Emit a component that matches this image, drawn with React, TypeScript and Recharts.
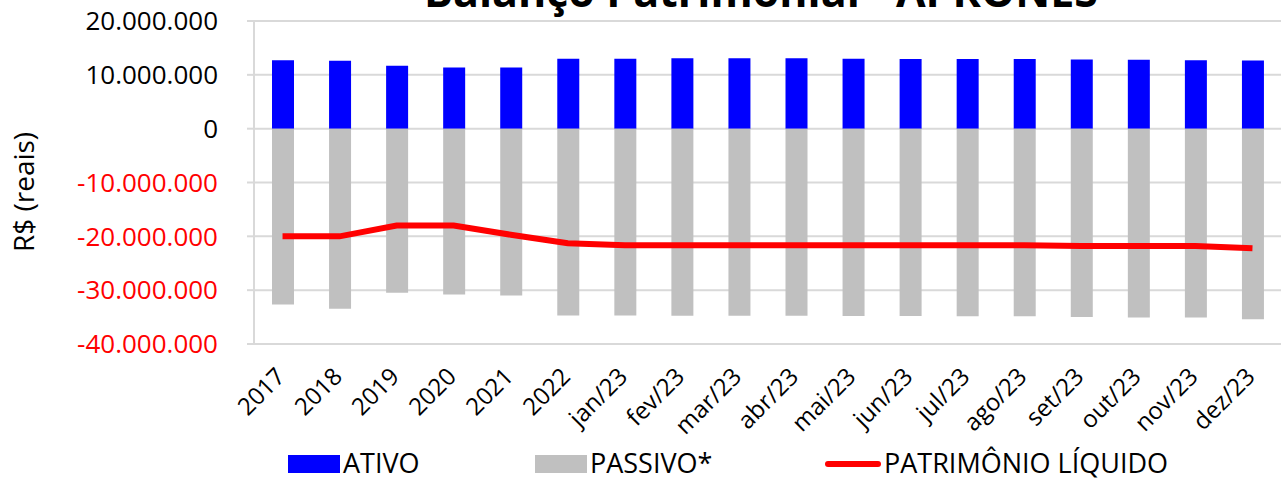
import { ComposedChart, Bar, Line, XAxis, YAxis, CartesianGrid, Legend } from 'recharts'

const categories = [
  '2017', '2018', '2019', '2020', '2021', '2022',
  'jan/23', 'fev/23', 'mar/23', 'abr/23', 'mai/23', 'jun/23',
  'jul/23', 'ago/23', 'set/23', 'out/23', 'nov/23', 'dez/23',
]

const ativo = [
  12720000, 12600000, 11670000, 11350000, 11350000, 13000000,
  13000000, 13080000, 13080000, 13080000, 13000000, 12960000,
  12960000, 12960000, 12840000, 12780000, 12720000, 12660000,
]

const passivo = [
  -32650000, -33450000, -30500000, -30800000, -31000000, -34700000,
  -34700000, -34750000, -34750000, -34750000, -34800000, -34800000,
  -34850000, -34850000, -35000000, -35060000, -35060000, -35400000,
]

const patrimonio = [
  -20000000, -20000000, -18000000, -18000000, -19700000, -21300000,
  -21650000, -21650000, -21650000, -21650000, -21650000, -21650000,
  -21650000, -21650000, -21800000, -21800000, -21800000, -22200000,
]

const yTicks = [20000000, 10000000, 0, -10000000, -20000000, -30000000, -40000000]

const data = categories.map((c, i) => ({
  name: c,
  ativo: ativo[i],
  passivo: passivo[i],
  pl: patrimonio[i],
}))

const FONT = '"Open Sans", sans-serif'

function fmt(v: number) {
  const s = Math.abs(v).toString().replace(/\B(?=(\d{3})+(?!\d))/g, '.')
  return v < 0 ? '-' + s : s
}

const YTick = ({ x, y, payload }: any) => (
  <text
    x={x}
    y={y}
    dy="0.355em"
    textAnchor="end"
    fontSize={26}
    fontFamily={FONT}
    fill={payload.value < 0 ? '#ff0000' : '#000000'}
  >
    {fmt(payload.value)}
  </text>
)

const XTick = ({ x, y, payload }: any) => {
  const px = x + 4
  const py = y + 26
  return (
    <text
      x={px}
      y={py}
      transform={`rotate(-45, ${px}, ${py})`}
      textAnchor="end"
      fontSize={24}
      fontFamily={FONT}
      fill="#000000"
    >
      {payload.value}
    </text>
  )
}

// legend box sits between y=430 and y=480
const LegendBox = () => (
  <div style={{ position: 'relative', height: 50, fontFamily: FONT, fontSize: 27, color: '#000' }}>
    <div style={{ position: 'absolute', left: 288, top: 25, width: 52, height: 18, background: '#0000ff' }} />
    <div style={{ position: 'absolute', left: 343, top: 18, lineHeight: '30px' }}>ATIVO</div>
    <div style={{ position: 'absolute', left: 535, top: 25, width: 52, height: 18, background: '#c0c0c0' }} />
    <div style={{ position: 'absolute', left: 590, top: 18, lineHeight: '30px' }}>PASSIVO*</div>
    <div style={{ position: 'absolute', left: 825, top: 31, width: 56, height: 6, background: '#ff0000', borderRadius: 3 }} />
    <div style={{ position: 'absolute', left: 884, top: 18, lineHeight: '30px' }}>PATRIMÔNIO LÍQUIDO</div>
  </div>
)

export default function App() {
  return (
    <div style={{ position: 'absolute', left: 0, top: 0, width: 1284, height: 480, background: '#fff', overflow: 'hidden' }}>
      <ComposedChart
        width={1284}
        height={480}
        data={data}
        stackOffset="sign"
        margin={{ top: 21, right: 3, bottom: 0, left: 0 }}
      >
        <CartesianGrid vertical={false} stroke="#d9d9d9" strokeWidth={2} />
        <XAxis
          dataKey="name"
          interval={0}
          height={86}
          axisLine={false}
          tickLine={false}
          tick={<XTick />}
        />
        <YAxis
          width={254}
          domain={[-40000000, 20000000]}
          ticks={yTicks}
          interval={0}
          axisLine={{ stroke: '#d9d9d9', strokeWidth: 2 }}
          tickLine={{ stroke: '#d9d9d9', strokeWidth: 2 }}
          tickSize={7}
          tickMargin={29}
          tick={<YTick />}
        />
        <Legend verticalAlign="bottom" height={50} content={<LegendBox />} />
        <Bar dataKey="ativo" stackId="a" fill="#0000ff" barSize={22} isAnimationActive={false} />
        <Bar dataKey="passivo" stackId="a" fill="#c0c0c0" barSize={22} isAnimationActive={false} />
        <Line
          type="linear"
          dataKey="pl"
          stroke="#ff0000"
          strokeWidth={6}
          dot={false}
          isAnimationActive={false}
        />
      </ComposedChart>
      <svg width={1284} height={480} style={{ position: 'absolute', left: 0, top: 0, pointerEvents: 'none' }}>
        <text x={761} y={7} textAnchor="middle" fontSize={43} fontWeight="bold" fontFamily={FONT} fill="#000">
          Balanço Patrimonial - APRONES
        </text>
        <text
          x={34}
          y={192}
          transform="rotate(-90, 34, 192)"
          textAnchor="middle"
          fontSize={28}
          fontFamily={FONT}
          fill="#000"
        >
          R$ (reais)
        </text>
      </svg>
    </div>
  )
}
